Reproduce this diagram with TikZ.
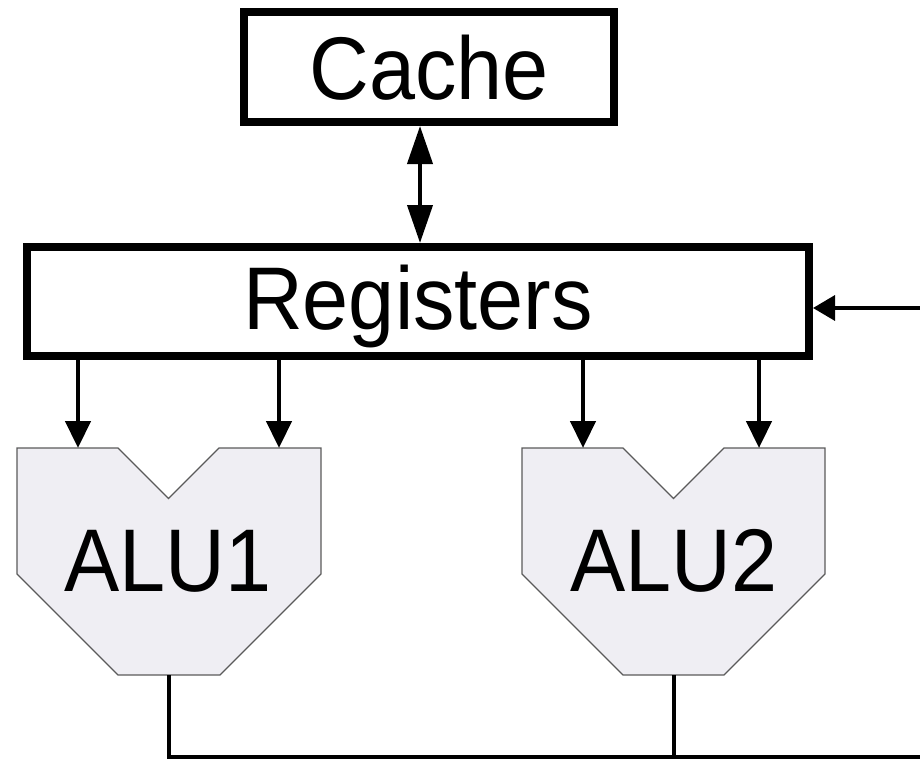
\documentclass[tikz,border=0pt]{standalone}
\usepackage{fontspec}
\setmainfont[FakeStretch=0.93]{Liberation Sans}
\usetikzlibrary{arrows.meta}
\definecolor{alufill}{RGB}{239,238,243}
\definecolor{aluline}{RGB}{90,90,90}
\begin{document}
\begin{tikzpicture}[x=1pt,y=-1pt,
  bigtext/.style={font=\fontsize{89}{100}\selectfont, text height=64pt, text depth=0pt},
  boxnode/.style={draw=black, line width=8pt, fill=white, inner sep=0pt, bigtext},
  alushape/.style={draw=aluline, line width=1.1pt, fill=alufill, line join=miter},
  alutext/.style={inner sep=0pt, bigtext},
  inarrow/.style={line width=4.5pt, -{Triangle[length=27pt,width=25pt]}},
  dblarrow/.style={line width=4pt, {Triangle[length=38pt,width=25pt]}-{Triangle[length=38pt,width=25pt]}},
  feedarrow/.style={line width=3.5pt, -{Triangle[length=22pt,width=25pt]}},
  wire/.style={line width=4pt, line join=miter}
]
\useasboundingbox (0,0) rectangle (920,760);

% boxes
\node[boxnode, minimum width=370pt, minimum height=110pt] (cache) at (429,67) {Cache};
\node[boxnode, minimum width=782pt, minimum height=109pt, text depth=8pt] (reg) at (418,301.5) {Registers};

% ALU shapes
\draw[alushape] (17,448) -- (118,448) -- (168.5,498.5) -- (219,448) -- (321,448)
  -- (321,574) -- (220,675) -- (118,675) -- (17,574) -- cycle;
\draw[alushape] (522,448) -- (623,448) -- (673.5,498.5) -- (724,448) -- (825,448)
  -- (825,574) -- (724,675) -- (623,675) -- (522,574) -- cycle;
\node[alutext] (alu1) at (168,559) {ALU1};
\node[alutext] (alu2) at (674,559) {ALU2};

% connection points
\coordinate (ax) at (420,0);
\coordinate (a1i1) at (78,448);
\coordinate (a1i2) at (279,448);
\coordinate (a2i1) at (583,448);
\coordinate (a2i2) at (759,448);
\coordinate (a1o) at (168.5,675);
\coordinate (a2o) at (673.5,675);
\coordinate (busend) at (920,757);
\coordinate (fbin) at (920,308);

% connectors
\draw[dblarrow] (cache.south -| ax) -- (reg.north -| ax);
\draw[feedarrow] (fbin) -- (fbin -| reg.east);
\draw[inarrow] (reg.south -| a1i1) -- (a1i1);
\draw[inarrow] (reg.south -| a1i2) -- (a1i2);
\draw[inarrow] (reg.south -| a2i1) -- (a2i1);
\draw[inarrow] (reg.south -| a2i2) -- (a2i2);
\draw[wire] (a1o) |- (busend);
\draw[wire] (a2o) -- (a2o |- busend);
\end{tikzpicture}
\end{document}
